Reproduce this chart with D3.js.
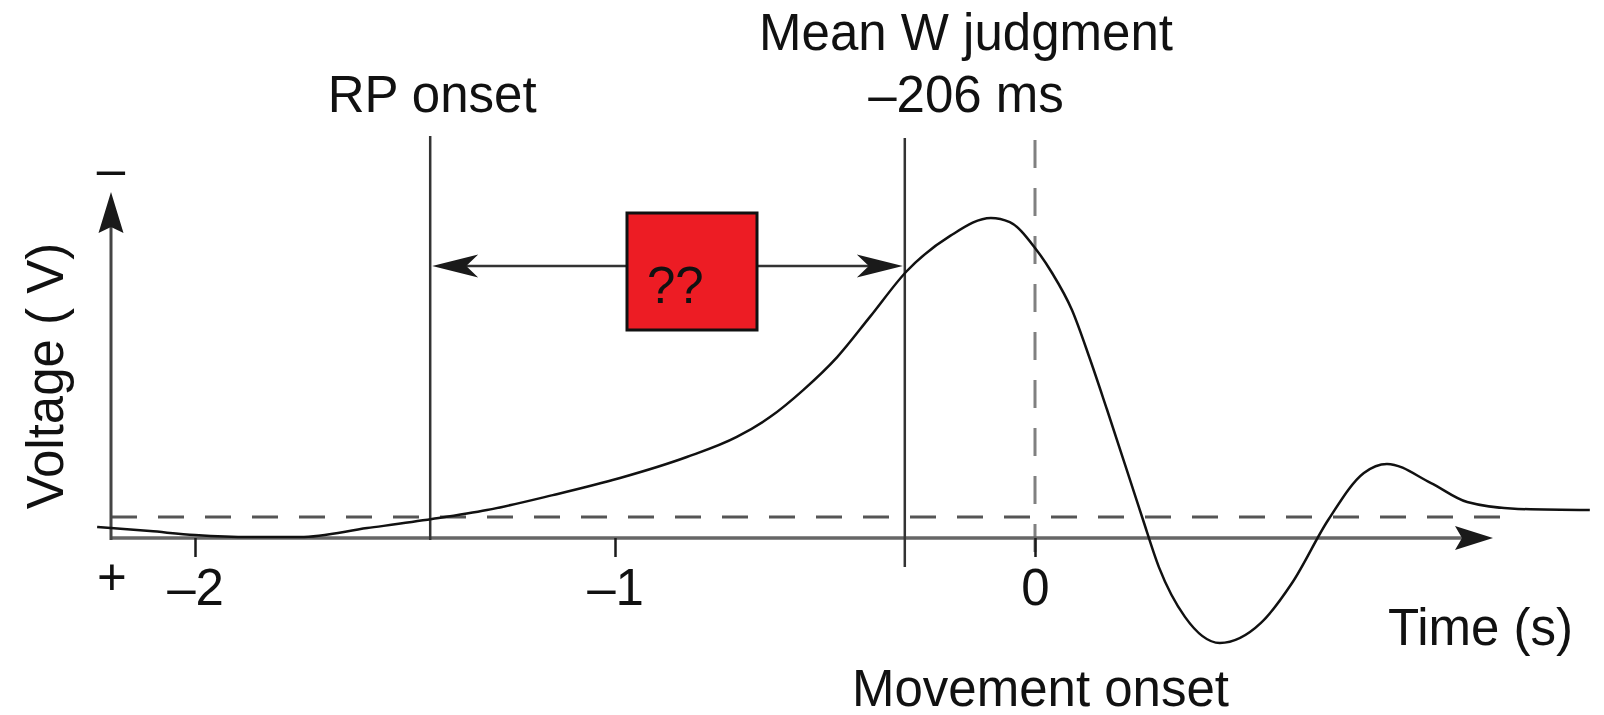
<!DOCTYPE html>
<html>
<head>
<meta charset="utf-8">
<script src="https://cdn.jsdelivr.net/npm/d3@7"></script>
<style>
  html, body { margin: 0; padding: 0; background: #fff; }
  svg { display: block; }
  text { font-family: "Liberation Sans", Arial, sans-serif; fill: #111; }
</style>
</head>
<body>
<svg id="chart" width="1604" height="715"></svg>
<script>
// ---- data (time in s relative to movement onset, voltage in arbitrary µV, negative up) ----
const timeS = [-2.233, -2.107, -2.0, -1.869, -1.75, -1.59, -1.436, -1.305, -1.148, -0.988,
               -0.829, -0.71, -0.631, -0.552, -0.471, -0.393, -0.305, -0.202, -0.105, -0.06,
               0.0, 0.04, 0.088, 0.13, 0.171, 0.255, 0.295, 0.357, 0.44, 0.538, 0.612,
               0.698, 0.783, 0.838, 0.943, 1.029, 1.15, 1.321];
const voltage = [0.33, 0.47, 0.6, 0.67, 0.67, 0.37, 0.07, -0.23, -0.73, -1.3,
                 -2.0, -2.67, -3.33, -4.23, -5.33, -6.67, -8.2, -9.37, -9.97, -9.83,
                 -8.97, -8.15, -6.9, -5.3, -3.6, 0.0, 1.67, 3.33, 4.2, 3.53, 2.2,
                 0.1, -1.47, -1.77, -1.13, -0.5, -0.27, -0.23];
const tickValues = [-2, -1, 0];
const tickLabels = ["–2", "–1", "0"];
const markerTimes = { rpOnset: -1.44, meanW: -0.31, movement: 0 };
const labels = {
  rp: "RP onset",
  meanW1: "Mean W judgment",
  meanW2: "–206 ms",
  movement: "Movement onset",
  xTitle: "Time (s)",
  yTitle: "Voltage ( V)",
  box: "??"
};

// ---- scales ----
const x = d3.scaleLinear().domain([-2, 1]).range([195, 1455]);
const y = d3.scaleLinear().domain([0, -10]).range([517, 217]);

const svg = d3.select("#chart");
const ink = "#1a1a1a";

function arrowHead(tx, ty, dir, L, W, N) {
  let pts;
  if (dir === "left") pts = [[tx, ty], [tx + L, ty - W], [tx + L - N, ty], [tx + L, ty + W]];
  else if (dir === "right") pts = [[tx, ty], [tx - L, ty - W], [tx - L + N, ty], [tx - L, ty + W]];
  else pts = [[tx, ty], [tx - W, ty + L], [tx, ty + L - N], [tx + W, ty + L]];
  return "M" + pts.map(p => p.join(",")).join("L") + "Z";
}

const y0 = y(0);
const axisY = 538;
const axisX = 111;

// dashed baseline
svg.append("line")
  .attr("x1", axisX).attr("x2", 1508).attr("y1", y0).attr("y2", y0)
  .attr("stroke", "#555").attr("stroke-width", 3).attr("stroke-dasharray", "26,21");

// vertical dashed line at movement onset
svg.append("line")
  .attr("x1", x(markerTimes.movement)).attr("x2", x(markerTimes.movement))
  .attr("y1", 140).attr("y2", 557)
  .attr("stroke", "#808080").attr("stroke-width", 3).attr("stroke-dasharray", "28,20");

// x axis line + arrow
svg.append("line")
  .attr("x1", axisX).attr("x2", 1462).attr("y1", axisY).attr("y2", axisY)
  .attr("stroke", "#666").attr("stroke-width", 3.5);
svg.append("path").attr("d", arrowHead(1493, axisY, "right", 38, 12, 7)).attr("fill", ink);

// ticks via d3 axis
const xAxis = d3.axisBottom(x).tickValues(tickValues)
  .tickFormat((d, i) => tickLabels[i]).tickSize(19).tickSizeOuter(0);
const gx = svg.append("g").attr("transform", `translate(0,${axisY})`).call(xAxis);
gx.select(".domain").remove();
gx.selectAll(".tick line").attr("stroke", ink).attr("stroke-width", 2.5);
gx.selectAll(".tick text")
  .attr("y", 67).attr("dy", 0)
  .style("font-family", '"Liberation Sans", Arial, sans-serif')
  .style("font-size", "51px").attr("fill", "#111");

// y axis line + arrow
svg.append("line")
  .attr("x1", axisX).attr("x2", axisX).attr("y1", axisY + 2).attr("y2", 220)
  .attr("stroke", "#444").attr("stroke-width", 3);
svg.append("path").attr("d", arrowHead(axisX, 192, "up", 41, 12.5, 6)).attr("fill", ink);

// vertical marker lines
svg.append("line")
  .attr("x1", x(markerTimes.rpOnset)).attr("x2", x(markerTimes.rpOnset))
  .attr("y1", 136).attr("y2", axisY + 2)
  .attr("stroke", "#333").attr("stroke-width", 2.5);
svg.append("line")
  .attr("x1", x(markerTimes.meanW)).attr("x2", x(markerTimes.meanW))
  .attr("y1", 138).attr("y2", 567)
  .attr("stroke", "#333").attr("stroke-width", 2.5);

// double arrow between markers
const arrY = 266;
const xa = x(markerTimes.rpOnset) + 2, xb = x(markerTimes.meanW) - 2;
svg.append("line")
  .attr("x1", xa + 20).attr("x2", xb - 20).attr("y1", arrY).attr("y2", arrY)
  .attr("stroke", "#333").attr("stroke-width", 2.5);
svg.append("path").attr("d", arrowHead(xa, arrY, "left", 46, 11.5, 12)).attr("fill", ink);
svg.append("path").attr("d", arrowHead(xb, arrY, "right", 46, 11.5, 12)).attr("fill", ink);

// red box
svg.append("rect")
  .attr("x", 627).attr("y", 213).attr("width", 130).attr("height", 117)
  .attr("fill", "#ed1c24").attr("stroke", "#111").attr("stroke-width", 3);
svg.append("text").attr("x", 647).attr("y", 303)
  .style("font-size", "51px").attr("fill", "#1a0505").text(labels.box);

// RP curve
const pts = timeS.map((t, i) => [t, voltage[i]]);
const line = d3.line().x(d => x(d[0])).y(d => y(d[1])).curve(d3.curveMonotoneX);
svg.append("path").datum(pts).attr("d", line)
  .attr("fill", "none").attr("stroke", "#111").attr("stroke-width", 2.5);

// texts
svg.append("text").attr("x", x(markerTimes.rpOnset) + 2).attr("y", 112)
  .attr("text-anchor", "middle").style("font-size", "51px").text(labels.rp);
svg.append("text").attr("x", 966).attr("y", 50)
  .attr("text-anchor", "middle").style("font-size", "51px").text(labels.meanW1);
svg.append("text").attr("x", 966).attr("y", 112)
  .attr("text-anchor", "middle").style("font-size", "51px").text(labels.meanW2);
svg.append("text").attr("x", 852).attr("y", 706)
  .style("font-size", "51px").text(labels.movement);
svg.append("text").attr("x", 1388).attr("y", 645)
  .style("font-size", "51px").text(labels.xTitle);
svg.append("text")
  .attr("transform", "translate(63,376) rotate(-90)")
  .attr("text-anchor", "middle").style("font-size", "51px").text(labels.yTitle);
svg.append("text").attr("x", 111).attr("y", 186)
  .attr("text-anchor", "middle").style("font-size", "51px").text("–");
svg.append("text").attr("x", 112).attr("y", 595)
  .attr("text-anchor", "middle").style("font-size", "51px").text("+");
</script>
</body>
</html>
